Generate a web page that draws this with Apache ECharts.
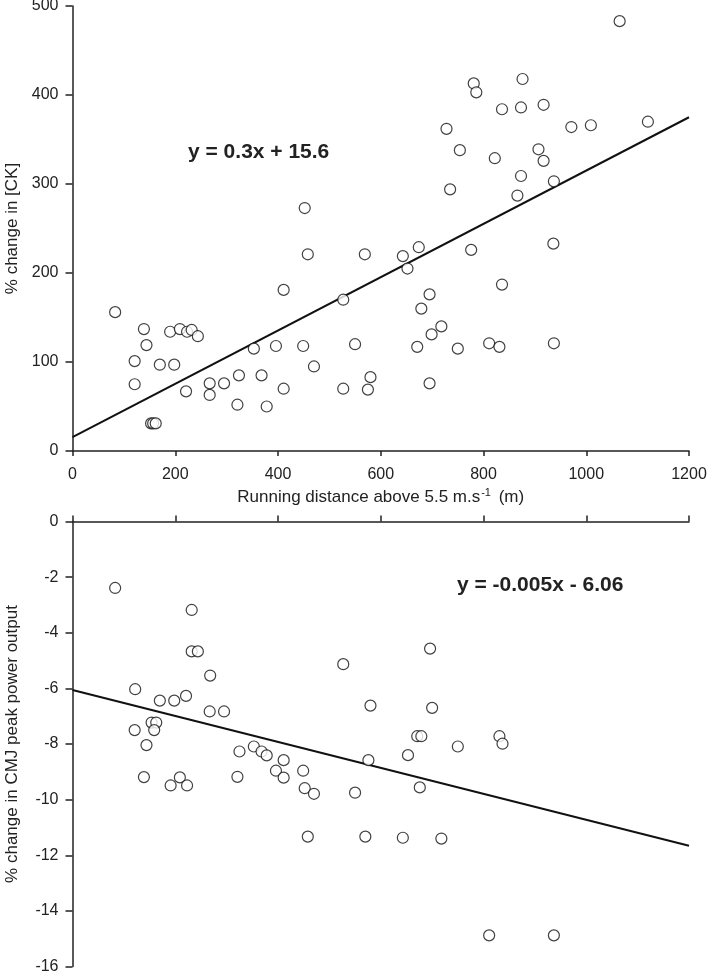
<!DOCTYPE html>
<html>
<head>
<meta charset="utf-8">
<script src="https://cdn.jsdelivr.net/npm/echarts@6/dist/echarts.min.js"></script>
<style>
html,body{margin:0;padding:0;background:#fff;}
#chart{width:709px;height:973px;}
</style>
</head>
<body>
<div id="chart"></div>
<script>
// ---- Data ----
var xTicks = [0, 200, 400, 600, 800, 1000, 1200];
var ckTicks = [0, 100, 200, 300, 400, 500];
var cmjTicks = [0, -2, -4, -6, -8, -10, -12, -14, -16];

// Top panel: running distance (m) vs % change in [CK]
var ckDist = [83,139,144,121,121,153,157,162,170,190,209,223,232,244,198,221,267,267,295,321,324,353,368,378,396,411,411,458,449,470,452,527,527,550,569,575,580,643,674,652,776,836,695,679,718,699,671,750,811,831,937,695,936,1065,781,786,876,836,873,917,728,971,1009,1120,754,822,907,917,873,937,735,866];
var ckChange = [156,137,119,101,75,31,31,31,97,134,137,134,136,129,97,67,76,63,76,52,85,115,85,50,118,181,70,221,118,95,273,170,70,120,221,69,83,219,229,205,226,187,176,160,140,131,117,115,121,117,121,76,233,483,413,403,418,384,386,389,362,364,366,370,338,329,339,326,309,303,294,287];

// Bottom panel: running distance (m) vs % change in CMJ peak power output
var cmjDist = [83,232,232,244,268,122,170,198,221,267,295,154,163,121,159,144,139,191,209,223,321,325,353,368,378,411,396,411,449,452,470,458,550,527,671,679,831,837,750,653,576,676,570,643,718,811,937,696,580,700];
var cmjChange = [-2.39,-3.18,-4.67,-4.67,-5.54,-6.03,-6.44,-6.44,-6.27,-6.83,-6.83,-7.23,-7.23,-7.5,-7.5,-8.04,-9.19,-9.49,-9.2,-9.49,-9.18,-8.27,-8.09,-8.27,-8.41,-8.58,-8.96,-9.21,-8.96,-9.59,-9.79,-11.33,-9.75,-5.13,-7.72,-7.72,-7.72,-7.99,-8.09,-8.4,-8.58,-9.56,-11.33,-11.37,-11.4,-14.88,-14.88,-4.57,-6.62,-6.7];

// Regression line end points (as drawn)
var ckFitX = [0, 1200];
var ckFitY = [15.6, 375];
var cmjFitX = [0, 1200];
var cmjFitY = [-6.06, -11.66];

var ckEquation = 'y = 0.3x + 15.6';
var cmjEquation = 'y = -0.005x - 6.06';

function zip(a, b) { return a.map(function (v, i) { return [v, b[i]]; }); }
function plain(v) { return String(v); }

var FONT = '"Liberation Sans", Arial, sans-serif';
var TXT = '#222';
var AX = '#222';

var chart = echarts.init(document.getElementById('chart'), null, {renderer: 'canvas'});

function yAxis(gridIndex, ticks, name) {
  var mn = Math.min.apply(null, ticks), mx = Math.max.apply(null, ticks);
  return {
    type: 'value', gridIndex: gridIndex, min: mn, max: mx,
    interval: Math.abs(ticks[1] - ticks[0]),
    name: name, nameLocation: 'middle', nameGap: 52, nameRotate: 90,
    nameTextStyle: {fontFamily: FONT, fontSize: 17, color: TXT},
    axisLine: {show: true, lineStyle: {color: AX, width: 1.5}},
    axisTick: {show: true, length: 7, inside: false, lineStyle: {color: AX, width: 1.5}},
    axisLabel: {show: true, margin: 14, fontFamily: FONT, fontSize: 16, color: TXT, formatter: plain},
    splitLine: {show: false}
  };
}

var option = {
  backgroundColor: '#fff',
  animation: false,
  grid: [
    {left: 72.5, right: 20, top: 6, height: 445, containLabel: false, outerBoundsMode: 'none'},
    {left: 72.5, right: 20, top: 521.5, height: 445, containLabel: false, outerBoundsMode: 'none'}
  ],
  xAxis: [
    {
      type: 'value', gridIndex: 0, min: xTicks[0], max: xTicks[xTicks.length - 1], interval: xTicks[1] - xTicks[0],
      position: 'bottom',
      name: 'Running distance above 5.5 m.s{sup|-1} (m)',
      nameLocation: 'middle', nameGap: 36,
      nameTextStyle: {fontFamily: FONT, fontSize: 17, color: TXT,
        rich: {sup: {fontFamily: FONT, fontSize: 11, color: TXT, verticalAlign: 'top', padding: [0, 3, 9, 1]}}},
      axisLine: {show: true, lineStyle: {color: AX, width: 1.5}},
      axisTick: {show: true, length: 5, lineStyle: {color: AX, width: 1.5}},
      axisLabel: {show: true, margin: 16, fontFamily: FONT, fontSize: 16, color: TXT, formatter: plain},
      splitLine: {show: false}
    },
    {
      type: 'value', gridIndex: 1, min: xTicks[0], max: xTicks[xTicks.length - 1], interval: xTicks[1] - xTicks[0],
      position: 'top',
      axisLine: {show: true, lineStyle: {color: AX, width: 1.5}},
      axisTick: {show: true, length: 6, lineStyle: {color: AX, width: 1.5}},
      axisLabel: {show: false},
      splitLine: {show: false}
    }
  ],
  yAxis: [
    yAxis(0, ckTicks, '% change in [CK]'),
    yAxis(1, cmjTicks, '% change in CMJ peak power output')
  ],
  graphic: [
    {type: 'text', left: 188, top: 142, style: {text: ckEquation, font: 'bold 21px ' + FONT, fill: TXT}},
    {type: 'text', left: 457, top: 575, style: {text: cmjEquation, font: 'bold 21px ' + FONT, fill: TXT}}
  ],
  series: [
    {
      type: 'line', xAxisIndex: 0, yAxisIndex: 0, data: zip(ckFitX, ckFitY),
      symbol: 'none', lineStyle: {color: '#111', width: 2}, z: 2, silent: true
    },
    {
      type: 'scatter', xAxisIndex: 0, yAxisIndex: 0, data: zip(ckDist, ckChange),
      symbol: 'circle', symbolSize: 11,
      itemStyle: {color: '#fff', borderColor: '#111', borderWidth: 1.2}, z: 3
    },
    {
      type: 'line', xAxisIndex: 1, yAxisIndex: 1, data: zip(cmjFitX, cmjFitY),
      symbol: 'none', lineStyle: {color: '#111', width: 2}, z: 2, silent: true
    },
    {
      type: 'scatter', xAxisIndex: 1, yAxisIndex: 1, data: zip(cmjDist, cmjChange),
      symbol: 'circle', symbolSize: 11,
      itemStyle: {color: '#fff', borderColor: '#111', borderWidth: 1.2}, z: 3
    }
  ]
};
chart.setOption(option);
</script>
</body>
</html>
